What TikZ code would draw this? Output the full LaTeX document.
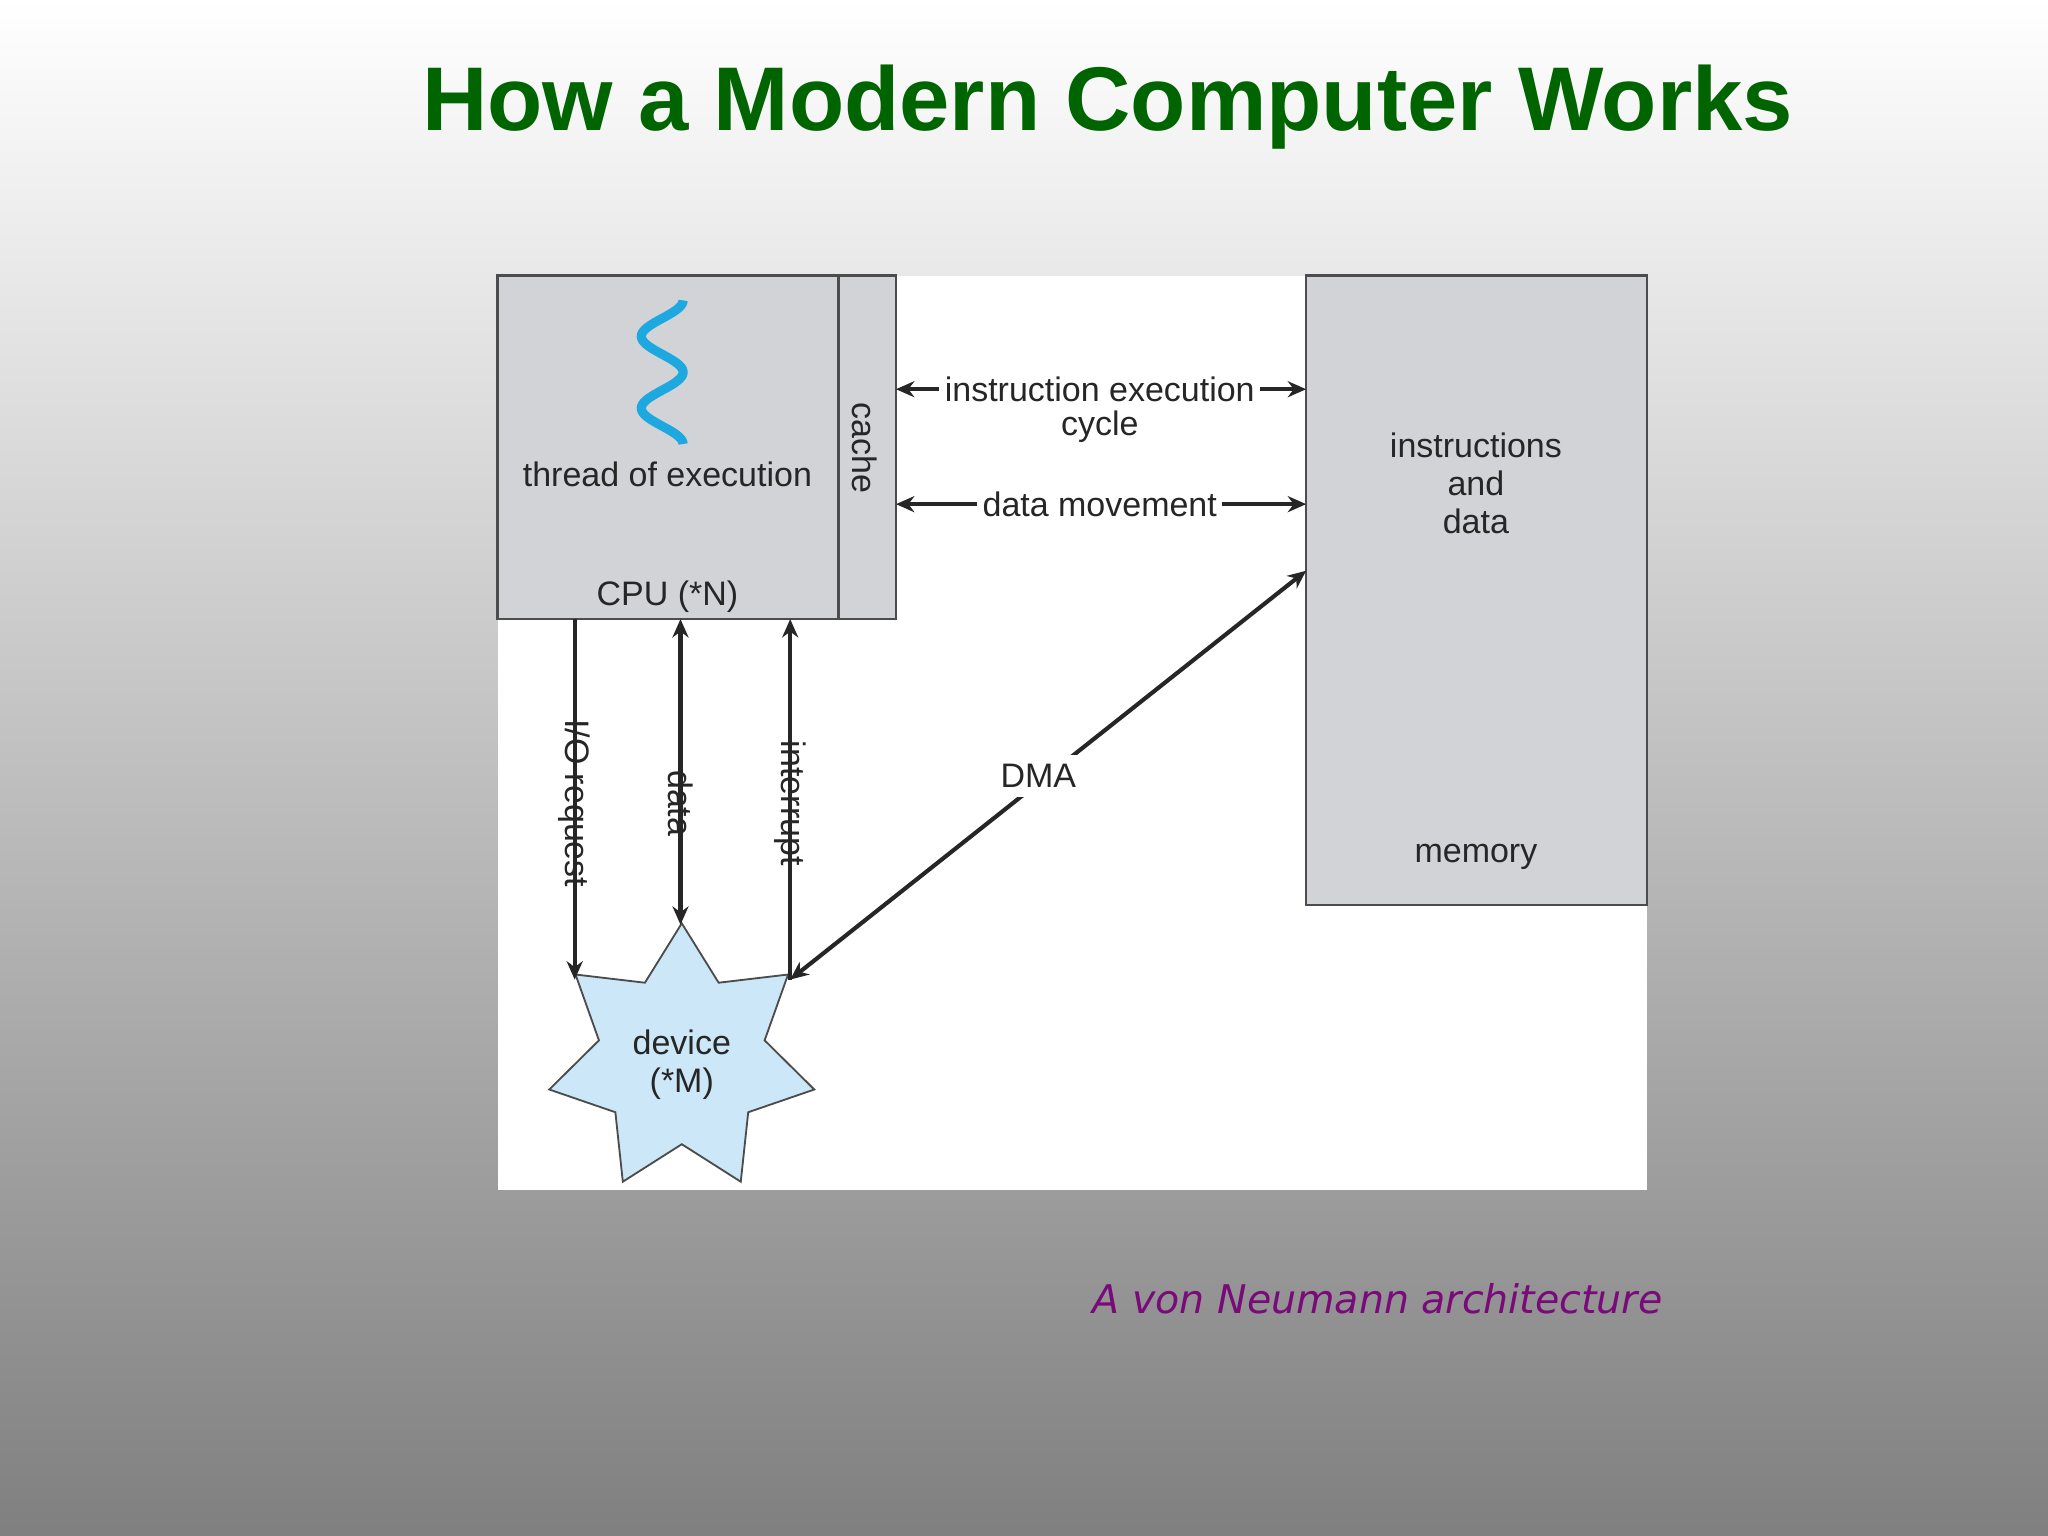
\documentclass[tikz,border=0pt]{standalone}
\usepackage{fontspec}
\setmainfont{Liberation Sans}
\newfontfamily\capfont{DejaVu Sans}
\usetikzlibrary{shapes.geometric,arrows.meta}
\definecolor{boxgray}{HTML}{D1D3D6}
\definecolor{ttlgreen}{HTML}{006400}
\definecolor{capcol}{HTML}{7A0A7A}
\definecolor{starblue}{HTML}{CCE8F8}
\definecolor{wave}{HTML}{1EA8E0}
\begin{document}
\begin{tikzpicture}[x=0.01cm,y=-0.01cm,
  box/.style={draw=black!70,line width=0.5pt,fill=boxgray},
  lbl/.style={font=\fontsize{7.4}{8.3}\selectfont,text=black!85,align=center},
  arr/.style={-{Stealth[length=4pt,width=3.5pt]},line width=0.9pt,black!85},
  darr/.style={{Stealth[length=4pt,width=3.5pt]}-{Stealth[length=4pt,width=3.5pt]},line width=0.9pt,black!85}]
\useasboundingbox (0,0) rectangle (1568,1176);
\shade[top color=white,bottom color=black!50] (0,0) rectangle (1568,1176);
\node[font=\bfseries\fontsize{19.7}{24}\selectfont,text=ttlgreen] (title) at (848,82) {How a Modern Computer Works};
\fill[white] (381,211) rectangle (1261,911);
% CPU
\draw[box] (381,211) rectangle (686,474);
\draw[black!70,line width=0.5pt] (642,211) -- (642,474);
\node[lbl] (thread) at (511,363) {thread of execution};
\node[lbl] (cpu) at (511,457) {CPU (*N)};
\node[lbl,rotate=-90] (cache) at (662,343) {cache};
\draw[wave,line width=2pt,domain=0:1,samples=80,variable=\t] plot ({507+16*sin(720*\t+90)},{230+110*\t});
% memory
\draw[box] (1000,211) rectangle (1261,693);
\node[lbl] (instr) at (1130,370) {instructions\\and\\data};
\node[lbl] (mem) at (1130,656) {memory};
% horizontal arrows
\coordinate (a1) at (686,298); \coordinate (b1) at (1000,298);
\coordinate (a2) at (686,386); \coordinate (b2) at (1000,386);
\node[lbl,fill=white,inner sep=1pt] (iec) at (842,298) {instruction execution};
\node[lbl] (cyc) at (842,327) {cycle};
\draw[arr] (iec.west) -- (a1);
\draw[arr] (iec.east) -- (b1);
\node[lbl,fill=white,inner sep=1pt] (dm) at (842,386) {data movement};
\draw[arr] (dm.west) -- (a2);
\draw[arr] (dm.east) -- (b2);
% star
\node[star,star points=7,star point ratio=1.6,minimum size=2.08cm,inner sep=0pt,draw=black!70,line width=0.4pt,fill=starblue] (dev) at (522,811) {};
\node[lbl] (devt) at (522,815) {device\\(*M)};
% verticals
\coordinate (io0) at (440,474); \coordinate (io1) at (440,750);
\coordinate (d0) at (521,474); \coordinate (d1) at (521,708);
\coordinate (in0) at (605,474); \coordinate (in1) at (605,750);
\node[lbl,rotate=-90,fill=white,inner sep=1pt] (iol) at (440,615) {I/O request};
\node[lbl,rotate=-90,fill=white,inner sep=1pt] (dl) at (521,615) {data};
\node[lbl,rotate=-90,fill=white,inner sep=1pt] (inl) at (605,615) {interrupt};
\draw[line width=0.9pt,black!85] (io0) -- (iol.east);
\draw[arr] (iol.west) -- (io1);
\draw[arr] (dl.east) -- (d0);
\draw[arr] (dl.west) -- (d1);
\draw[line width=0.9pt,black!85] (in1) -- (inl.west);
\draw[arr] (inl.east) -- (in0);
% DMA
\coordinate (dm0) at (605,750); \coordinate (dm1) at (1000,437);
\draw[darr] (dm0) -- (dm1);
\node[lbl,fill=white,inner sep=2pt] (dma) at (795,594) {DMA};
% caption
\node[font=\capfont\itshape\fontsize{8.6}{10}\selectfont,text=capcol,anchor=west,inner sep=0pt] (capt) at (836,994) {A von Neumann architecture};
\end{tikzpicture}
\end{document}
